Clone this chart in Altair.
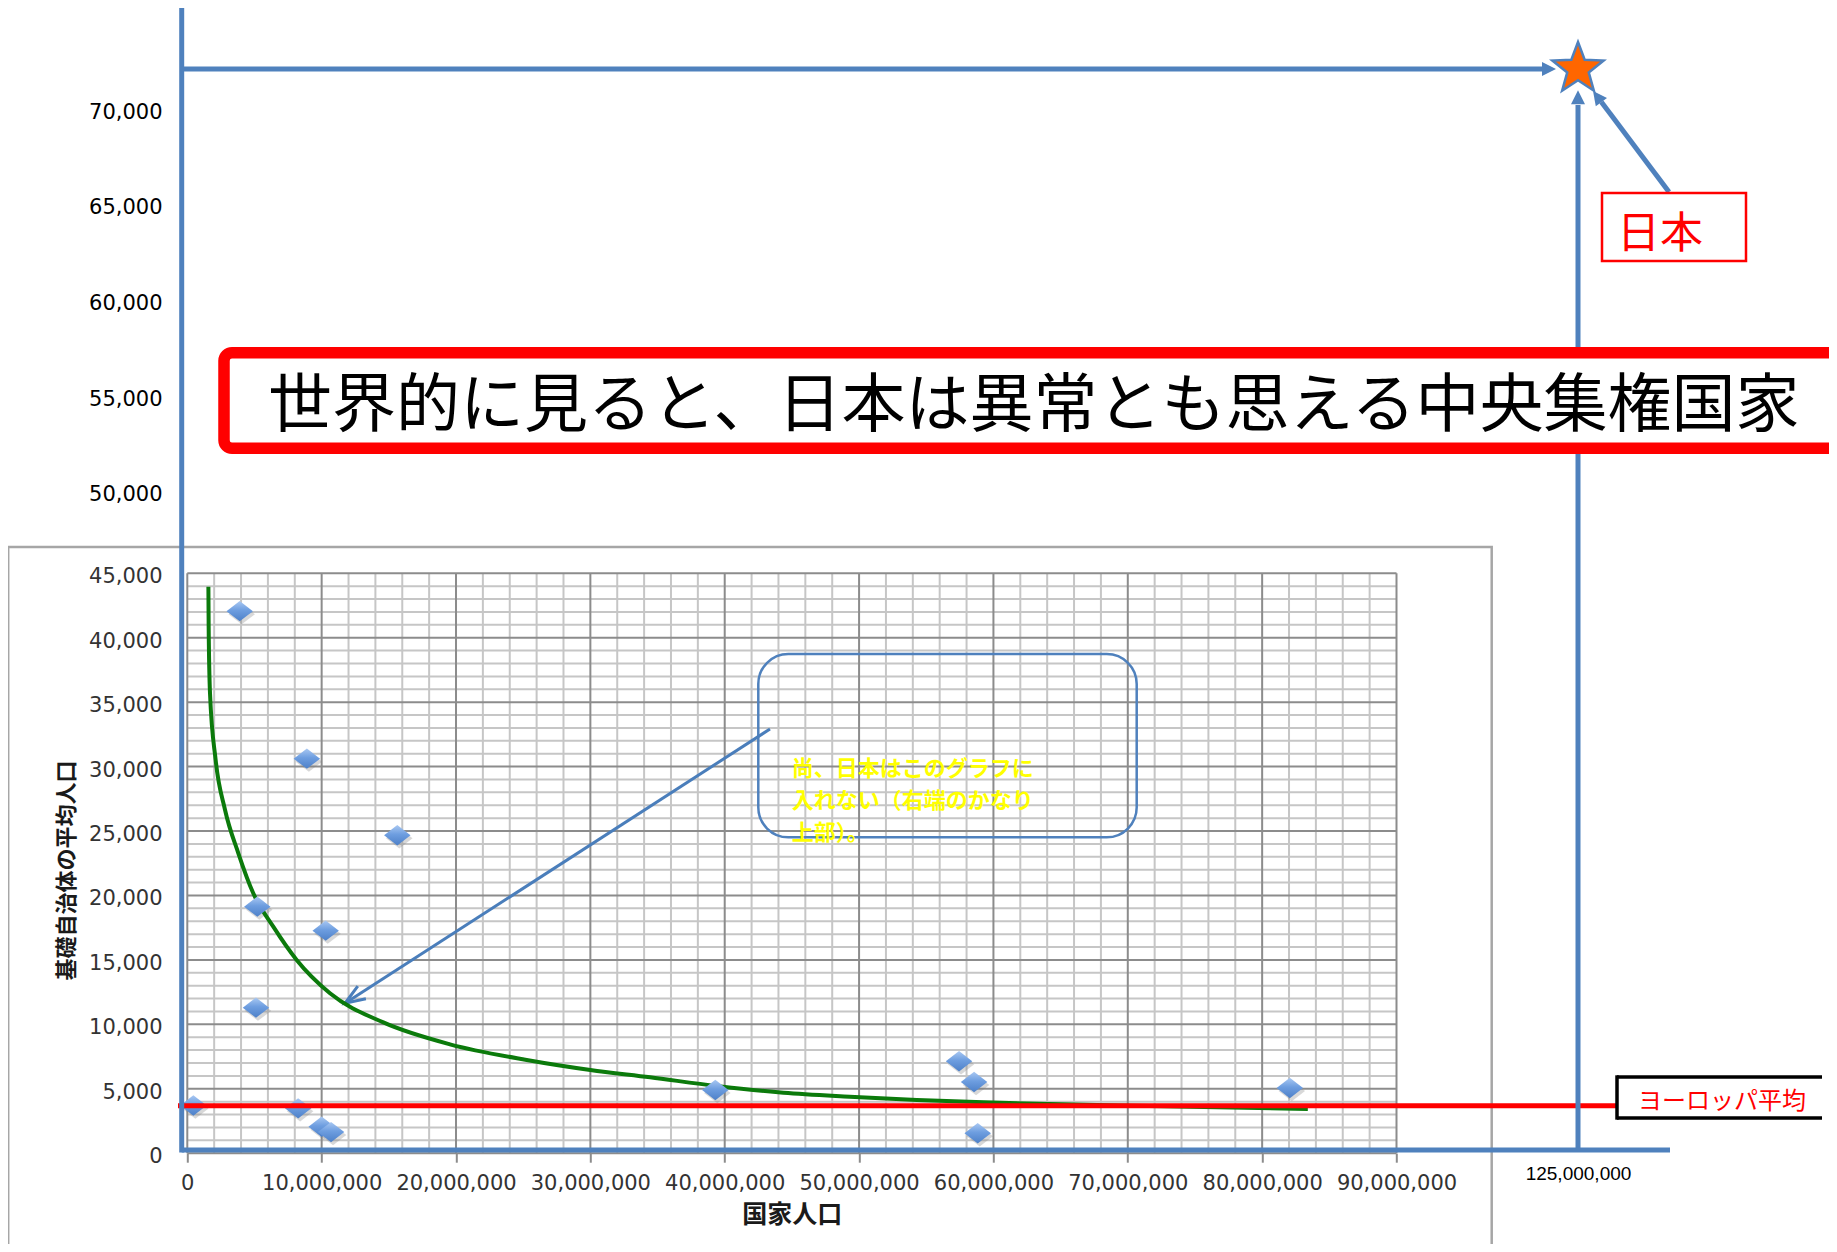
import altair as alt
import pandas as pd

# ---------------- values ----------------
# countries: total population (x) and average population of a basic municipality (y)
country_pop = [0.45e6, 3.9e6, 8.9e6, 15.63e6, 5.21e6, 10.3e6, 5.11e6, 8.25e6,
               10.0e6, 10.7e6, 39.3e6, 57.44e6, 58.56e6, 58.83e6, 82.06e6]
muni_avg = [3700, 42060, 30615, 24670, 19130, 17267, 11292, 3480,
            2050, 1640, 4905, 7131, 5525, 1544, 5060]

# trend curve as drawn
trend_pop = [1.57e6, 1.59e6, 1.69e6, 2.11e6, 2.81e6, 3.80e6, 4.91e6, 6.40e6, 8.14e6,
             10.62e6, 14.59e6, 19.55e6, 25.26e6, 30.0e6, 34.45e6, 39.40e6, 44.37e6, 49.30e6,
             54.30e6, 59.25e6, 64.20e6, 71.60e6, 83.40e6]
trend_avg = [43960, 40860, 35690, 30515, 26635, 23275, 20170, 17580, 14995,
             12410, 10150, 8450, 7236, 6460, 5890, 5215, 4695, 4385,
             4128, 3950, 3818, 3663, 3430]

europe_avg = [3690]
japan_pop = [125_000_000]
japan_avg = [72200]

# callout arrow inside the Excel chart (from box to trend curve)
note_arrow_from = [43.37e6, 32920]
note_arrow_to = [11.74e6, 11633]

# tick labels
x_tick_labels = [0, 10_000_000, 20_000_000, 30_000_000, 40_000_000, 50_000_000,
                 60_000_000, 70_000_000, 80_000_000, 90_000_000, 125_000_000]
y_tick_labels = [0, 5000, 10000, 15000, 20000, 25000, 30000, 35000, 40000, 45000,
                 50000, 55000, 60000, 65000, 70000]

TITLE = "世界的に見ると、日本は異常とも思える中央集権国家"
JAPAN_LABEL = "日本"
EUROPE_LABEL = "ヨーロッパ平均"
X_TITLE = "国家人口"
Y_TITLE = "基礎自治体の平均人口"
NOTE_LINES = ["尚、日本はこのグラフに", "入れない（右端のかなり", "上部）。"]

# ---------------- layout / style ----------------
W, H = 1209.2, 579.9
BLUE = "#4f81bd"
JP = "Noto Sans CJK JP"

# Excel gridline spacing (major = labelled ticks, minor in between)
x_major = [v for v in x_tick_labels if v <= 90_000_000]
x_minor = [v for v in range(0, 90_000_001, 2_000_000) if v not in x_major]
y_major = [v for v in y_tick_labels if v <= 45000]
y_minor = [v for v in range(0, 45001, 1000) if v not in y_major]

XS = alt.Scale(domain=[0, 90e6, 125e6], range=[0, W, 1390.7], nice=False, zero=False)
YS = alt.Scale(domain=[0, 45000, 50000, 70000], range=[H, 0, -79.6, -462.3], nice=False, zero=False)

x_axis = alt.Axis(
    values=x_tick_labels, tickCount=500, format=",d",
    title=X_TITLE, titleFont=JP, titleFontSize=25, titleFontWeight="bold", titleColor="#1a1a1a",
    titleX=604.4, titleY=61.3, titleAlign="center", titleBaseline="middle", titleAngle=0,
    grid=False, domain=False, ticks=True, tickSize=9, tickWidth=2, tickColor="#8c8c8c",
    tickOpacity={"condition": {"test": "datum.value > 90000000", "value": 0}, "value": 1},
    labelFont={"condition": {"test": "datum.value > 90000000", "value": "Liberation Sans"}, "value": "DejaVu Sans"},
    labelFontSize={"condition": {"test": "datum.value > 90000000", "value": 19}, "value": 21},
    labelColor={"condition": {"test": "datum.value > 90000000", "value": "#000000"}, "value": "#333333"},
    labelBaseline={"condition": {"test": "datum.value > 90000000", "value": "bottom"}, "value": "middle"},
    labelPadding=21.5, labelAlign="center", labelAngle=0, labelFlush=False, labelOverlap=False,
)

y_axis = alt.Axis(
    values=y_tick_labels, tickCount=500, format=",d",
    title=Y_TITLE, titleFont=JP, titleFontSize=22, titleFontWeight="bold", titleColor="#1a1a1a",
    titleAngle=270, titleX=-120.5, titleY=296.7, titleAlign="center", titleBaseline="middle",
    grid=False, domain=False, ticks=False,
    labelFont="DejaVu Sans", labelFontSize=21,
    labelColor={"condition": {"test": "datum.value > 45000", "value": "#000000"}, "value": "#333333"},
    labelOffset={"condition": {"test": "datum.value > 45000", "value": 1}, "value": 3.5},
    labelPadding=25.3, labelAlign="right", labelBaseline="middle", labelFlush=False, labelOverlap=False,
)

DIAMOND = "M -1 0 L 0 -0.77 L 1 0 L 0 0.77 Z"
STAR = ("M 0 -1 L 0.247 -0.34 L 0.951 -0.309 L 0.399 0.13 L 0.588 0.809 L 0 0.42 "
        "L -0.588 0.809 L -0.399 0.13 L -0.951 -0.309 L -0.247 -0.34 Z")
HEAD = "M -1 -1 L 1 0 L -1 1 Z"
OPEN_HEAD = "M -1 -0.75 L 1 0 L -1 0.75"

pts = pd.DataFrame({"x": country_pop, "y": muni_avg})
trend = pd.DataFrame({"x": trend_pop, "y": trend_avg})
eu = pd.DataFrame({"y": europe_avg})
japan = pd.DataFrame({"x": japan_pop, "y": japan_avg})
note_arrow = pd.DataFrame({"x": [note_arrow_from[0]], "y": [note_arrow_from[1]],
                           "x2": [note_arrow_to[0]], "y2": [note_arrow_to[1]]})
one = pd.DataFrame({"k": [0]})


def X(f="x"):
    return alt.X(f"{f}:Q", scale=XS, axis=x_axis)


def Y(f="y"):
    return alt.Y(f"{f}:Q", scale=YS, axis=y_axis)


grad = alt.LinearGradient(gradient="linear",
                          stops=[alt.GradientStop(color="#a9c8f2", offset=0),
                                 alt.GradientStop(color="#6e9ee0", offset=0.45),
                                 alt.GradientStop(color="#4d80c8", offset=1)],
                          x1=0, x2=0, y1=0, y2=1)

layers = []
# Excel chart area frame
layers.append(alt.Chart(one).mark_rect(fill="white", fillOpacity=0, stroke="#a6a6a6", strokeWidth=2.5).encode(
    x=alt.value(-179.1), x2=alt.value(1304.4), y=alt.value(-26.3), y2=alt.value(700)))
# plot-area gridlines (minor then major)
layers.append(alt.Chart(pd.DataFrame({"x": x_minor})).mark_rule(color="#c6c6c6", strokeWidth=2).encode(
    x=X(), y=alt.value(0), y2=alt.value(H)))
layers.append(alt.Chart(pd.DataFrame({"y": y_minor})).mark_rule(color="#c6c6c6", strokeWidth=2).encode(
    y=Y(), x=alt.value(0), x2=alt.value(W)))
layers.append(alt.Chart(pd.DataFrame({"x": x_major})).mark_rule(color="#8c8c8c", strokeWidth=2).encode(
    x=X(), y=alt.value(0), y2=alt.value(H)))
layers.append(alt.Chart(pd.DataFrame({"y": y_major})).mark_rule(color="#8c8c8c", strokeWidth=2).encode(
    y=Y(), x=alt.value(0), x2=alt.value(W)))
# diamond shadows
layers.append(alt.Chart(pts).mark_point(shape=DIAMOND, size=700, filled=True, fill="#7f7f7f", opacity=0.3,
                                        strokeWidth=0, xOffset=2, yOffset=3).encode(x=X(), y=Y()))
# callout box
layers.append(alt.Chart(one).mark_rect(fill="white", fillOpacity=0, stroke=BLUE, strokeWidth=2.5,
                                       cornerRadius=30).encode(
    x=alt.value(571.0), x2=alt.value(949.4), y=alt.value(80.7), y2=alt.value(264.0)))
# arrow from callout to curve
layers.append(alt.Chart(note_arrow).mark_rule(color="#4a7ebb", strokeWidth=3).encode(
    x=X("x"), y=Y("y"), x2=alt.X2("x2"), y2=alt.Y2("y2")))
layers.append(alt.Chart(note_arrow).mark_point(shape=OPEN_HEAD, size=400, filled=False, stroke="#4a7ebb",
                                               strokeWidth=3, opacity=1, angle=147.2,
                                               xOffset=8.4, yOffset=-5.4).encode(
    x=X("x2"), y=Y("y2")))
# trend curve
layers.append(alt.Chart(trend).mark_line(color="#0b7a0b", strokeWidth=4, interpolate="monotone").encode(
    x=X(), y=Y()))
# scatter diamonds
layers.append(alt.Chart(pts).mark_point(shape=DIAMOND, size=700, filled=True, fill=grad, opacity=1,
                                        strokeWidth=0).encode(x=X(), y=Y()))
# callout text
layers.append(alt.Chart(one).mark_text(align="left", baseline="top", font=JP, fontSize=22, lineHeight=32,
                                       fontWeight="bold", color="#ffff00").encode(
    x=alt.value(604.4), y=alt.value(185.7), text=alt.value(NOTE_LINES)))
# Europe average line
layers.append(alt.Chart(eu).mark_rule(color="#ff0000", strokeWidth=5).encode(
    y=Y(), x=alt.value(-9.3), x2=alt.value(1429.7)))
# outer blue axes
layers.append(alt.Chart(one).mark_rule(color=BLUE, strokeWidth=5).encode(
    x=alt.value(-5.6), y=alt.value(-567.3), y2=alt.value(579.2)))
layers.append(alt.Chart(one).mark_rule(color=BLUE, strokeWidth=5).encode(
    x=alt.value(-5.6), x2=alt.value(1482.7), y=alt.value(576.7)))
# arrows to Japan
layers.append(alt.Chart(japan).mark_rule(color=BLUE, strokeWidth=5, xOffset=-36).encode(
    x=X(), x2=alt.value(-5.6), y=Y()))
layers.append(alt.Chart(japan).mark_point(shape=HEAD, size=196, filled=True, fill=BLUE, opacity=1,
                                          strokeWidth=0, xOffset=-29, angle=0).encode(x=X(), y=Y()))
layers.append(alt.Chart(japan).mark_rule(color=BLUE, strokeWidth=5, yOffset=36).encode(
    x=X(), y=Y(), y2=alt.value(576.7)))
layers.append(alt.Chart(japan).mark_point(shape=HEAD, size=196, filled=True, fill=BLUE, opacity=1,
                                          strokeWidth=0, yOffset=28.4, angle=270).encode(x=X(), y=Y()))
layers.append(alt.Chart(japan).mark_rule(color=BLUE, strokeWidth=5, xOffset=23.4, yOffset=33.2).encode(
    x=X(), y=Y(), x2=alt.value(1481.7), y2=alt.value(-381.3)))
layers.append(alt.Chart(japan).mark_point(shape=HEAD, size=196, filled=True, fill=BLUE, opacity=1,
                                          strokeWidth=0, xOffset=19.2, yOffset=27.6, angle=233).encode(
    x=X(), y=Y()))
# Japan star
layers.append(alt.Chart(japan).mark_point(shape=STAR, size=2900, filled=True, fill="#ff6600", opacity=1,
                                          stroke=BLUE, strokeWidth=2.5).encode(x=X(), y=Y()))
# Japan label box
layers.append(alt.Chart(one).mark_rect(fill="white", stroke="#ff0000", strokeWidth=2.5).encode(
    x=alt.value(1414.7), x2=alt.value(1558.7), y=alt.value(-380.3), y2=alt.value(-312.3)))
layers.append(alt.Chart(one).mark_text(align="left", baseline="middle", font=JP, fontSize=43,
                                       color="#ff0000").encode(
    x=alt.value(1429.7), y=alt.value(-337.9), text=alt.value(JAPAN_LABEL)))
# Europe average box
layers.append(alt.Chart(one).mark_rect(fill="white", strokeWidth=0).encode(
    x=alt.value(1429.7), x2=alt.value(1660), y=alt.value(503.7), y2=alt.value(544.7)))
layers.append(alt.Chart(one).mark_rule(color="black", strokeWidth=3.5).encode(
    x=alt.value(1429.7), x2=alt.value(1634.7), y=alt.value(503.7)))
layers.append(alt.Chart(one).mark_rule(color="black", strokeWidth=3.5).encode(
    x=alt.value(1429.7), x2=alt.value(1634.7), y=alt.value(544.7)))
layers.append(alt.Chart(one).mark_rule(color="black", strokeWidth=3.5).encode(
    x=alt.value(1429.7), y=alt.value(502), y2=alt.value(546.4)))
layers.append(alt.Chart(one).mark_text(align="left", baseline="middle", font=JP, fontSize=24,
                                       color="#ff0000").encode(
    x=alt.value(1450.7), y=alt.value(528.6), text=alt.value(EUROPE_LABEL)))
# title box
layers.append(alt.Chart(one).mark_rect(fill="white", stroke="#ff0000", strokeWidth=11.5, cornerRadius=8).encode(
    x=alt.value(36.7), x2=alt.value(1680), y=alt.value(-220.6), y2=alt.value(-125.0)))
layers.append(alt.Chart(one).mark_text(align="left", baseline="middle", font=JP, fontSize=64,
                                       color="#000000").encode(
    x=alt.value(80.7), y=alt.value(-166.2), text=alt.value(TITLE)))

chart = alt.layer(*layers).properties(
    width=W, height=H,
    background="white",
    autosize=alt.AutoSizeParams(type="none"),
    padding={"left": 179.3, "top": 565.3, "right": 432.5, "bottom": 90.8},
).configure_view(stroke=None)

chart.save("out.html", embed_options={"renderer": "svg", "actions": False})
